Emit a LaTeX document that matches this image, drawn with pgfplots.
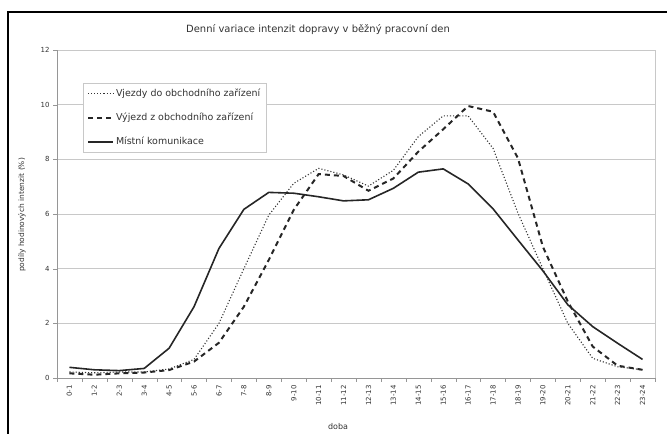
\documentclass[border=0pt]{standalone}
\usepackage{pgfplots}
\pgfplotsset{compat=1.18}
\usepackage{fontspec}
\setmainfont{DejaVu Sans}
\definecolor{gridc}{RGB}{200,200,200}
\definecolor{axc}{RGB}{150,150,150}
\definecolor{txt}{RGB}{50,50,50}
\begin{document}
\begin{tikzpicture}[x=1bp,y=1bp]
\useasboundingbox (0,0) rectangle (667,434);
\draw[line width=1.5bp] (8,0) -- (8,422) -- (667,422);
\begin{axis}[
  at={(57bp,56bp)}, anchor=south west, scale only axis,
  width=598bp, height=328bp,
  xmin=-0.5, xmax=23.5, ymin=0, ymax=12,
  ytick={0,2,...,12},
  xtick={0,...,23},
  xticklabels={0-1,1-2,2-3,3-4,4-5,5-6,6-7,7-8,8-9,9-10,10-11,11-12,12-13,13-14,14-15,15-16,16-17,17-18,18-19,19-20,20-21,21-22,22-23,23-24},
  x tick label style={rotate=90, anchor=east, font=\fontsize{7}{8}\selectfont, text=txt},
  y tick label style={font=\fontsize{7}{8}\selectfont, text=txt},
  /pgf/number format/assume math mode=true,
  minor xtick={-0.5,0.5,...,23.5},
  major x tick style={draw=none},
  minor x tick style={draw=axc},
  tick align=outside,
  major tick length=4bp, minor tick length=4bp,
  ymajorgrids, grid style={gridc, line width=0.8bp},
  axis line style={axc, line width=0.8bp},
  axis x line*=bottom, axis y line*=left,
  y tick style={draw=axc},
  clip=false,
  legend style={at={(0.043,0.9)}, anchor=north west, draw=gridc, line width=0.6bp,
     font=\fontsize{9.5}{11}\selectfont, text=txt, row sep=11bp, inner sep=4bp},
  legend cell align=left,
  legend image code/.code={\draw[#1] (0bp,0bp) -- (25bp,0bp);},
]
\addplot[black!80, line width=1.1bp, dotted] coordinates {
(0,0.22)(1,0.19)(2,0.22)(3,0.22)(4,0.33)(5,0.68)(6,2.0)(7,4.0)(8,5.96)(9,7.12)(10,7.67)(11,7.43)(12,7.02)(13,7.6)(14,8.83)(15,9.59)(16,9.59)(17,8.4)(18,6.03)(19,4.0)(20,2.0)(21,0.72)(22,0.41)(23,0.3)};
\addlegendentry{Vjezdy do obchodního zařízení}
\addplot[black!85, line width=2bp, dash pattern=on 5bp off 4bp] coordinates {
(0,0.17)(1,0.12)(2,0.17)(3,0.2)(4,0.29)(5,0.6)(6,1.29)(7,2.61)(8,4.32)(9,6.15)(10,7.46)(11,7.39)(12,6.85)(13,7.3)(14,8.28)(15,9.1)(16,9.95)(17,9.74)(18,8.04)(19,4.8)(20,2.8)(21,1.15)(22,0.45)(23,0.3)};
\addlegendentry{Výjezd z obchodního zařízení}
\addplot[black!85, line width=1.6bp] coordinates {
(0,0.39)(1,0.3)(2,0.27)(3,0.35)(4,1.09)(5,2.61)(6,4.74)(7,6.17)(8,6.79)(9,6.76)(10,6.63)(11,6.48)(12,6.52)(13,6.94)(14,7.53)(15,7.65)(16,7.1)(17,6.19)(18,5.05)(19,3.92)(20,2.68)(21,1.88)(22,1.27)(23,0.68)};
\addlegendentry{Místní komunikace}
\draw[gridc, line width=0.8bp] (rel axis cs:1,0) -- (rel axis cs:1,1);
\end{axis}
\node[text=txt, font=\fontsize{10}{12}\selectfont] at (318,404) {Denní variace intenzit dopravy v běžný pracovní den};
\node[text=txt, font=\fontsize{7.5}{9}\selectfont, rotate=90] at (22,219) {podíly hodinových intenzit (\%)};
\node[text=txt, font=\fontsize{8}{9}\selectfont] at (338,7) {doba};
\end{tikzpicture}
\end{document}
